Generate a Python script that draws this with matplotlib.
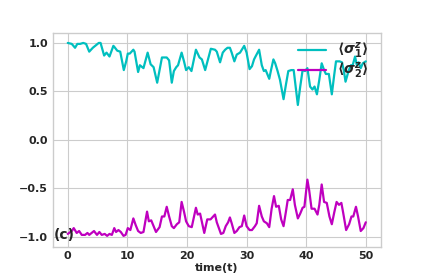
import numpy as np
import matplotlib
matplotlib.use("Agg")
import matplotlib.pyplot as plt

# =========================
# DATA
# =========================
t1 = [0, 0.67, 1.22, 1.6, 2.06, 2.6, 3.07, 3.6, 4.2, 4.4, 5.2, 5.5, 6.1, 6.5, 7.0,
      7.65, 7.8, 8.3, 8.8, 9.4, 9.8, 10.07, 10.4, 11.0, 11.2, 11.8, 12.1, 12.7, 13.4,
      13.9, 14.4, 15.0, 15.4, 15.8, 16.6, 17.0, 17.45, 17.8, 18.2, 18.5, 19.1, 19.5,
      19.85, 20.3, 20.75, 21.5, 22.1, 22.5, 23.05, 24.0, 24.7, 25.0, 25.55, 26.0,
      26.4, 26.8, 27.2, 27.5, 27.95, 28.35, 28.9, 29.6, 30.0, 30.5, 30.9, 31.25,
      31.5, 32.1, 32.55, 32.9, 33.2, 33.8, 34.1, 34.5, 34.8, 35.2, 35.6, 36.2, 36.6,
      37.0, 37.5, 37.9, 38.6, 39.0, 39.4, 39.8, 40.2, 40.65, 41.05, 41.4, 41.8, 42.2,
      42.6, 43.0, 43.3, 43.8, 44.3, 44.7, 45.0, 45.6, 46.0, 46.3, 46.6, 47.1, 47.5,
      47.8, 48.2, 48.5, 48.8, 49.15, 49.5, 50.0]
sz1 = [1.0, 0.99, 0.95, 0.99, 0.99, 1.0, 0.99, 0.91, 0.95, 0.96, 1.0, 1.0, 0.87, 0.90,
       0.86, 0.97, 0.96, 0.92, 0.91, 0.72, 0.81, 0.89, 0.89, 0.93, 0.91, 0.70, 0.77,
       0.74, 0.90, 0.78, 0.75, 0.59, 0.72, 0.85, 0.85, 0.82, 0.59, 0.71, 0.75, 0.77,
       0.90, 0.81, 0.72, 0.75, 0.71, 0.93, 0.85, 0.83, 0.72, 0.94, 0.93, 0.91, 0.80,
       0.90, 0.93, 0.95, 0.95, 0.90, 0.81, 0.88, 0.90, 0.97, 0.90, 0.73, 0.76, 0.83,
       0.86, 0.93, 0.77, 0.71, 0.72, 0.63, 0.72, 0.83, 0.79, 0.71, 0.62, 0.42, 0.57,
       0.71, 0.72, 0.72, 0.36, 0.55, 0.72, 0.71, 0.74, 0.55, 0.52, 0.55, 0.47, 0.62,
       0.79, 0.72, 0.68, 0.68, 0.47, 0.67, 0.81, 0.81, 0.80, 0.72, 0.60, 0.71, 0.77,
       0.77, 0.86, 0.77, 0.80, 0.74, 0.79, 0.81]

t2 = [0, 0.67, 1.0, 1.5, 1.9, 2.35, 2.9, 3.3, 3.6, 4.4, 4.9, 5.3, 5.7, 6.2, 6.6, 7.0,
      7.4, 7.8, 8.1, 8.5, 8.9, 9.35, 9.7, 10.07, 10.5, 11.0, 11.4, 11.8, 12.25, 12.7,
      13.3, 13.6, 14.0, 14.4, 14.8, 15.4, 15.8, 16.2, 16.6, 17.0, 17.45, 17.8, 18.3,
      18.7, 19.1, 19.5, 19.85, 20.3, 20.8, 21.5, 21.8, 22.2, 22.9, 23.4, 23.95, 24.7,
      25.0, 25.7, 26.1, 26.5, 26.9, 27.2, 27.5, 27.95, 28.35, 28.8, 29.2, 29.6, 30.0,
      30.5, 30.9, 31.4, 31.7, 32.1, 32.55, 32.9, 33.4, 33.8, 34.2, 34.6, 34.95, 35.4,
      35.8, 36.2, 36.6, 36.9, 37.3, 37.75, 38.1, 38.6, 39.0, 39.4, 39.7, 40.2, 40.5,
      40.9, 41.4, 41.9, 42.2, 42.6, 43.0, 43.45, 43.9, 44.3, 44.7, 45.1, 45.5, 45.9,
      46.2, 46.7, 47.2, 47.6, 47.9, 48.35, 48.7, 49.15, 49.6, 50.0]
sz2 = [-0.97, -0.94, -0.91, -0.96, -0.94, -0.98, -0.98, -0.96, -0.98, -0.94, -0.98,
       -0.95, -0.98, -0.97, -0.99, -0.97, -0.98, -0.91, -0.95, -0.93, -0.95, -0.99,
       -0.98, -0.91, -0.93, -0.81, -0.88, -0.94, -0.96, -0.95, -0.74, -0.84, -0.83,
       -0.89, -0.95, -0.90, -0.79, -0.79, -0.69, -0.79, -0.89, -0.91, -0.87, -0.85,
       -0.64, -0.74, -0.84, -0.89, -0.90, -0.70, -0.77, -0.76, -0.96, -0.82, -0.82,
       -0.77, -0.85, -0.97, -0.96, -0.89, -0.85, -0.80, -0.86, -0.96, -0.94, -0.90,
       -0.89, -0.78, -0.89, -0.93, -0.93, -0.89, -0.86, -0.68, -0.79, -0.84, -0.86,
       -0.90, -0.71, -0.58, -0.69, -0.68, -0.82, -0.89, -0.74, -0.62, -0.62, -0.51,
       -0.67, -0.81, -0.76, -0.70, -0.69, -0.41, -0.52, -0.71, -0.71, -0.77, -0.67,
       -0.46, -0.64, -0.65, -0.79, -0.87, -0.75, -0.64, -0.67, -0.65, -0.75, -0.93,
       -0.87, -0.79, -0.79, -0.69, -0.79, -0.94, -0.91, -0.85]

labels = [r'$\boldsymbol{\langle\sigma_1^z\rangle}$', r'$\boldsymbol{\langle\sigma_2^z\rangle}$']

# =========================
# PLOT
# =========================
plt.style.use('seaborn-v0_8-whitegrid')
plt.rcParams['font.family'] = ['DejaVu Sans']
plt.rcParams['font.weight'] = 'bold'

fig = plt.figure(figsize=(4.23, 2.77), dpi=100)
ax = fig.add_subplot(111)
ax.plot(t1, sz1, color='c', lw=1.6, label=labels[0])
ax.plot(t2, sz2, color='m', lw=1.6, label=labels[1])

ax.set_xlabel("time(t)", fontsize=8, fontweight='bold', labelpad=1)
ax.tick_params(labelsize=8)
for lab in ax.get_xticklabels() + ax.get_yticklabels():
    lab.set_fontweight('bold')
ax.set_xticks([0, 10, 20, 30, 40, 50])
ax.set_yticks([-1.0, -0.5, 0.0, 0.5, 1.0])
ax.set_ylim(-1.1, 1.1)

ax.text(-2.3, -0.985, "(c)", fontsize=10, fontweight='bold', va='center', ha='left')
ax.legend(loc='upper right', bbox_to_anchor=(0.978, 0.99), fontsize=10, frameon=False,
          labelspacing=0.0, handlelength=2.0, borderaxespad=0.0)

plt.savefig("out.png", dpi=100)
plt.close()
